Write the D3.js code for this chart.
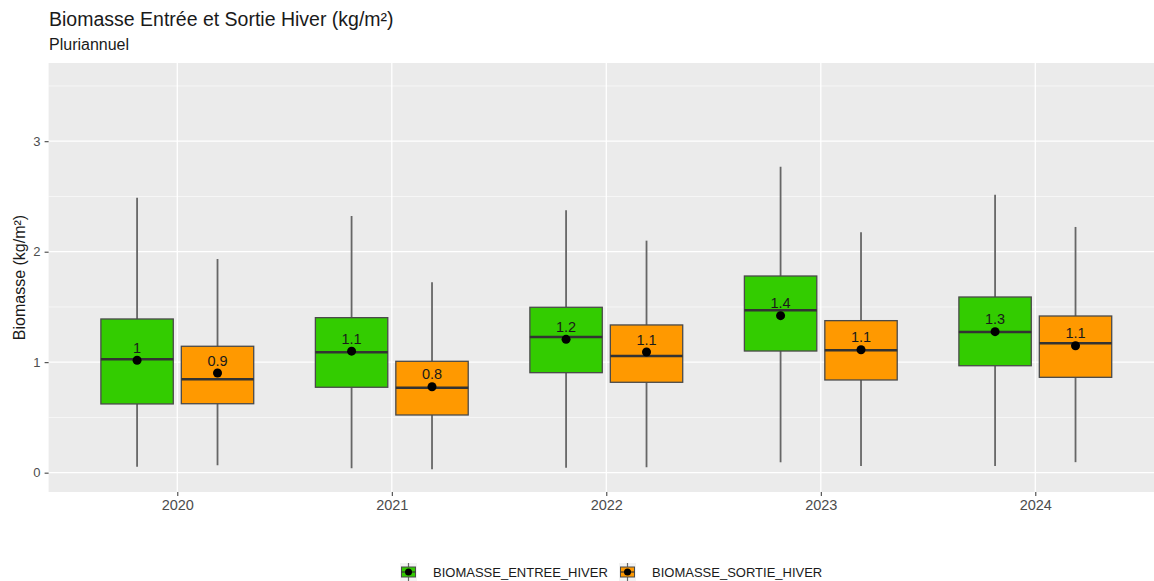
<!DOCTYPE html>
<html>
<head>
<meta charset="utf-8">
<script src="https://cdn.jsdelivr.net/npm/d3@7"></script>
<style>
  html, body { margin: 0; padding: 0; background: #fff; }
  svg { display: block; font-family: "Liberation Sans", Arial, Helvetica, sans-serif; }
</style>
</head>
<body>
<svg id="chart" width="1154" height="581"></svg>
<script>
// Years on the x axis and the two measured series
const years = ["2020", "2021", "2022", "2023", "2024"];
const seriesNames = ["BIOMASSE_ENTREE_HIVER", "BIOMASSE_SORTIE_HIVER"];
const seriesColors = ["#33CC00", "#FF9900"];

// Box statistics, kg/m² (whisker ends, quartiles, median, mean)
const entreeMin  = [0.054, 0.040, 0.045, 0.094, 0.061];
const entreeQ1   = [0.622, 0.773, 0.905, 1.101, 0.968];
const entreeMed  = [1.026, 1.090, 1.228, 1.470, 1.273];
const entreeQ3   = [1.391, 1.403, 1.497, 1.780, 1.590];
const entreeMax  = [2.489, 2.323, 2.376, 2.769, 2.516];
const entreeMean = [1.017, 1.100, 1.207, 1.421, 1.276];

const sortieMin  = [0.067, 0.031, 0.049, 0.061, 0.095];
const sortieQ1   = [0.624, 0.522, 0.818, 0.839, 0.863];
const sortieMed  = [0.845, 0.769, 1.056, 1.108, 1.171];
const sortieQ3   = [1.144, 1.008, 1.337, 1.376, 1.418];
const sortieMax  = [1.934, 1.723, 2.100, 2.176, 2.224];
const sortieMean = [0.902, 0.778, 1.092, 1.113, 1.149];

const yTicks = [0, 1, 2, 3];
const yMinorTicks = [0.5, 1.5, 2.5, 3.5];
const yLimits = [-0.175, 3.708];

// Build one record per box
const stats = [
  { min: entreeMin, q1: entreeQ1, med: entreeMed, q3: entreeQ3, max: entreeMax, mean: entreeMean },
  { min: sortieMin, q1: sortieQ1, med: sortieMed, q3: sortieQ3, max: sortieMax, mean: sortieMean }
];
const boxes = [];
years.forEach((yr, i) => {
  seriesNames.forEach((s, k) => {
    const st = stats[k];
    boxes.push({ year: yr, series: s, color: seriesColors[k],
      min: st.min[i], q1: st.q1[i], med: st.med[i], q3: st.q3[i], max: st.max[i], mean: st.mean[i] });
  });
});

const svg = d3.select("#chart");
const panel = { left: 48.6, right: 1164, top: 63, bottom: 492 };

const x = d3.scalePoint().domain(years).range([panel.left, panel.right]).padding(0.6);
const step = x.step();
const dodge = d3.scaleBand().domain(seriesNames).range([-0.375 * step, 0.375 * step]);
const boxW = dodge.bandwidth() * 0.9;
const y = d3.scaleLinear().domain(yLimits).range([panel.bottom, panel.top]);

// Panel background
svg.append("rect")
  .attr("x", panel.left).attr("y", panel.top)
  .attr("width", panel.right - panel.left).attr("height", panel.bottom - panel.top)
  .attr("fill", "#EBEBEB");

// Grid
const grid = svg.append("g");
grid.selectAll(".minor").data(yMinorTicks).join("line")
  .attr("x1", panel.left).attr("x2", panel.right)
  .attr("y1", d => y(d)).attr("y2", d => y(d))
  .attr("stroke", "#fff").attr("stroke-width", 0.6);
grid.selectAll(".major").data(yTicks).join("line")
  .attr("x1", panel.left).attr("x2", panel.right)
  .attr("y1", d => y(d)).attr("y2", d => y(d))
  .attr("stroke", "#fff").attr("stroke-width", 1.3);
grid.selectAll(".vmajor").data(years).join("line")
  .attr("x1", d => x(d)).attr("x2", d => x(d))
  .attr("y1", panel.top).attr("y2", panel.bottom)
  .attr("stroke", "#fff").attr("stroke-width", 1.3);

// Axes
const yAxis = svg.append("g")
  .attr("transform", `translate(${panel.left},0)`)
  .call(d3.axisLeft(y).tickValues(yTicks).tickSize(4).tickPadding(4).tickFormat(d3.format("d")));
yAxis.select(".domain").remove();
yAxis.selectAll(".tick line").attr("stroke", "#333").attr("stroke-width", 1);
yAxis.selectAll(".tick text").attr("fill", "#4D4D4D").style("font-size", "13px");

const xAxis = svg.append("g")
  .attr("transform", `translate(0,${panel.bottom})`)
  .call(d3.axisBottom(x).tickSize(4).tickPadding(4));
xAxis.select(".domain").remove();
xAxis.selectAll(".tick line").attr("stroke", "#333").attr("stroke-width", 1);
xAxis.selectAll(".tick text").attr("fill", "#4D4D4D").style("font-size", "14.5px");

// Boxplots
const g = svg.append("g");
const cx = d => x(d.year) + dodge(d.series) + dodge.bandwidth() / 2;

g.selectAll(".whisker-lo").data(boxes).join("line")
  .attr("x1", cx).attr("x2", cx)
  .attr("y1", d => y(d.min)).attr("y2", d => y(d.q1))
  .attr("stroke", "#666").attr("stroke-width", 1.8);
g.selectAll(".whisker-hi").data(boxes).join("line")
  .attr("x1", cx).attr("x2", cx)
  .attr("y1", d => y(d.q3)).attr("y2", d => y(d.max))
  .attr("stroke", "#666").attr("stroke-width", 1.8);
g.selectAll(".box").data(boxes).join("rect")
  .attr("x", d => cx(d) - boxW / 2).attr("width", boxW)
  .attr("y", d => y(d.q3)).attr("height", d => y(d.q1) - y(d.q3))
  .attr("fill", d => d.color).attr("stroke", "#4a4a4a").attr("stroke-width", 1.3);
g.selectAll(".median").data(boxes).join("line")
  .attr("x1", d => cx(d) - boxW / 2).attr("x2", d => cx(d) + boxW / 2)
  .attr("y1", d => y(d.med)).attr("y2", d => y(d.med))
  .attr("stroke", "#333").attr("stroke-width", 2.6);
g.selectAll(".mean").data(boxes).join("circle")
  .attr("cx", cx).attr("cy", d => y(d.mean)).attr("r", 4.5)
  .attr("fill", "#000");
g.selectAll(".label").data(boxes).join("text")
  .attr("x", cx).attr("y", d => y(d.mean) - 7.5)
  .attr("text-anchor", "middle")
  .attr("fill", "#1a1a1a").style("font-size", "14.5px")
  .text(d => String(Math.round(d.mean * 10) / 10));

// Titles
svg.append("text").attr("x", 49).attr("y", 26)
  .attr("fill", "#1a1a1a").style("font-size", "19.5px")
  .text("Biomasse Entrée et Sortie Hiver (kg/m²)");
svg.append("text").attr("x", 49).attr("y", 50)
  .attr("fill", "#1a1a1a").style("font-size", "16px")
  .text("Pluriannuel");
svg.append("text")
  .attr("transform", `translate(25,${(panel.top + panel.bottom) / 2}) rotate(-90)`)
  .attr("text-anchor", "middle")
  .attr("fill", "#1a1a1a").style("font-size", "16px")
  .text("Biomasse (kg/m²)");

// Legend
const legendItems = [
  { name: seriesNames[0], color: seriesColors[0], keyX: 400 },
  { name: seriesNames[1], color: seriesColors[1], keyX: 619 }
];
const legendY = 572;
const lg = svg.append("g");
legendItems.forEach(it => {
  const kg = lg.append("g").attr("transform", `translate(${it.keyX},${legendY - 9})`);
  kg.append("rect").attr("width", 17).attr("height", 18).attr("fill", "#F2F2F2");
  kg.append("line").attr("x1", 8.5).attr("x2", 8.5).attr("y1", 0).attr("y2", 18)
    .attr("stroke", "#666").attr("stroke-width", 1.2);
  kg.append("rect").attr("x", 1.5).attr("y", 4).attr("width", 14).attr("height", 10)
    .attr("fill", it.color).attr("stroke", "#4a4a4a").attr("stroke-width", 1);
  kg.append("line").attr("x1", 1.5).attr("x2", 15.5).attr("y1", 9).attr("y2", 9)
    .attr("stroke", "#333").attr("stroke-width", 1.2);
  kg.append("circle").attr("cx", 8.5).attr("cy", 9).attr("r", 3.5).attr("fill", "#000");
  lg.append("text").attr("x", it.keyX + 33).attr("y", legendY + 4.5)
    .attr("fill", "#1a1a1a").style("font-size", "13px")
    .text(it.name);
});
</script>
</body>
</html>
